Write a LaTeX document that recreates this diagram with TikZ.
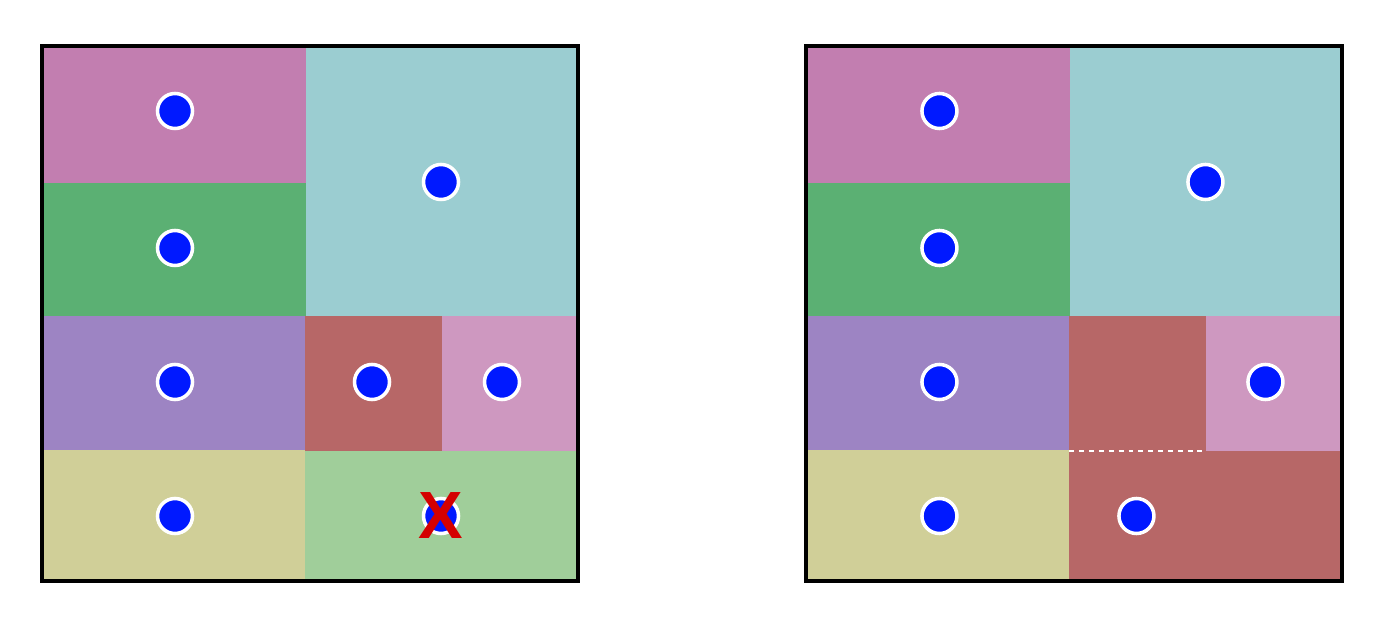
\documentclass[tikz,border=0pt]{standalone}
\usepackage{fontspec}
\newfontfamily\crossfont{Liberation Sans}
\usetikzlibrary{positioning}
\definecolor{colorMauve}{RGB}{194,126,176}
\definecolor{colorTeal}{RGB}{155,205,209}
\definecolor{colorGreen}{RGB}{91,176,115}
\definecolor{colorPurple}{RGB}{157,132,195}
\definecolor{colorBrown}{RGB}{183,103,103}
\definecolor{colorPink}{RGB}{206,152,192}
\definecolor{colorKhaki}{RGB}{208,207,152}
\definecolor{colorMint}{RGB}{160,206,154}
\definecolor{colorDot}{RGB}{0,25,255}
\definecolor{colorCross}{RGB}{212,0,0}
\tikzstyle{frame} = [draw=black, line width=1.15pt]
\tikzstyle{agent} = [circle, minimum size=0.35cm, inner sep=0pt, fill=colorDot, draw=white, line width=1pt]
\tikzstyle{merged} = [draw=white, dash pattern=on 1.4pt off 1.4pt, line width=0.6pt]
\tikzstyle{removed} = [text=colorCross, inner sep=0pt, font=\crossfont\bfseries\fontsize{19}{19}\selectfont]

\begin{document}
\begin{tikzpicture}[x=0.01cm, y=-0.01cm]

		\useasboundingbox (0,0) rectangle (1382,634);

		% left panel: before
		\fill[colorMauve] (42,46) rectangle (306,183);
		\fill[colorGreen] (42,183) rectangle (306,316);
		\fill[colorTeal] (306,46) rectangle (578,316);
		\fill[colorPurple] (42,316) rectangle (305,450);
		\fill[colorBrown] (305,316) rectangle (442,451);
		\fill[colorPink] (442,316) rectangle (578,451);
		\fill[colorKhaki] (42,450) rectangle (305,581);
		\fill[colorMint] (305,451) rectangle (578,581);
		\draw[frame] (42,46) rectangle (578,581);

		\node (lMauve)[agent] at (175,111) {};
		\node (lGreen)[agent] at (175,248) {};
		\node (lTeal)[agent] at (441,182) {};
		\node (lPurple)[agent] at (175,382) {};
		\node (lBrown)[agent] at (372,382) {};
		\node (lPink)[agent] at (502,382) {};
		\node (lKhaki)[agent] at (175,516) {};
		\node (lMint)[agent] at (441,516) {};
		\node (lCross)[removed] at (lMint) {X};

		% right panel: after
		\begin{scope}[xshift=7.64cm]
		\fill[colorMauve] (42,46) rectangle (306,183);
		\fill[colorGreen] (42,183) rectangle (306,316);
		\fill[colorTeal] (306,46) rectangle (578,316);
		\fill[colorPurple] (42,316) rectangle (305,450);
		\fill[colorBrown] (305,316) rectangle (442,451);
		\fill[colorPink] (442,316) rectangle (578,451);
		\fill[colorKhaki] (42,450) rectangle (305,581);
		\fill[colorBrown] (305,451) rectangle (578,581);
		\draw[frame] (42,46) rectangle (578,581);

		\coordinate (rSeamA) at (305,451);
		\coordinate (rSeamB) at (438,451);
		\draw[merged] (rSeamA) -- (rSeamB);

		\node (rMauve)[agent] at (175,111) {};
		\node (rGreen)[agent] at (175,248) {};
		\node (rTeal)[agent] at (441,182) {};
		\node (rPurple)[agent] at (175,382) {};
		\node (rPink)[agent] at (501,382) {};
		\node (rKhaki)[agent] at (175,516) {};
		\node (rBrown)[agent] at (372,516) {};
		\end{scope}

	\end{tikzpicture}
\end{document}
